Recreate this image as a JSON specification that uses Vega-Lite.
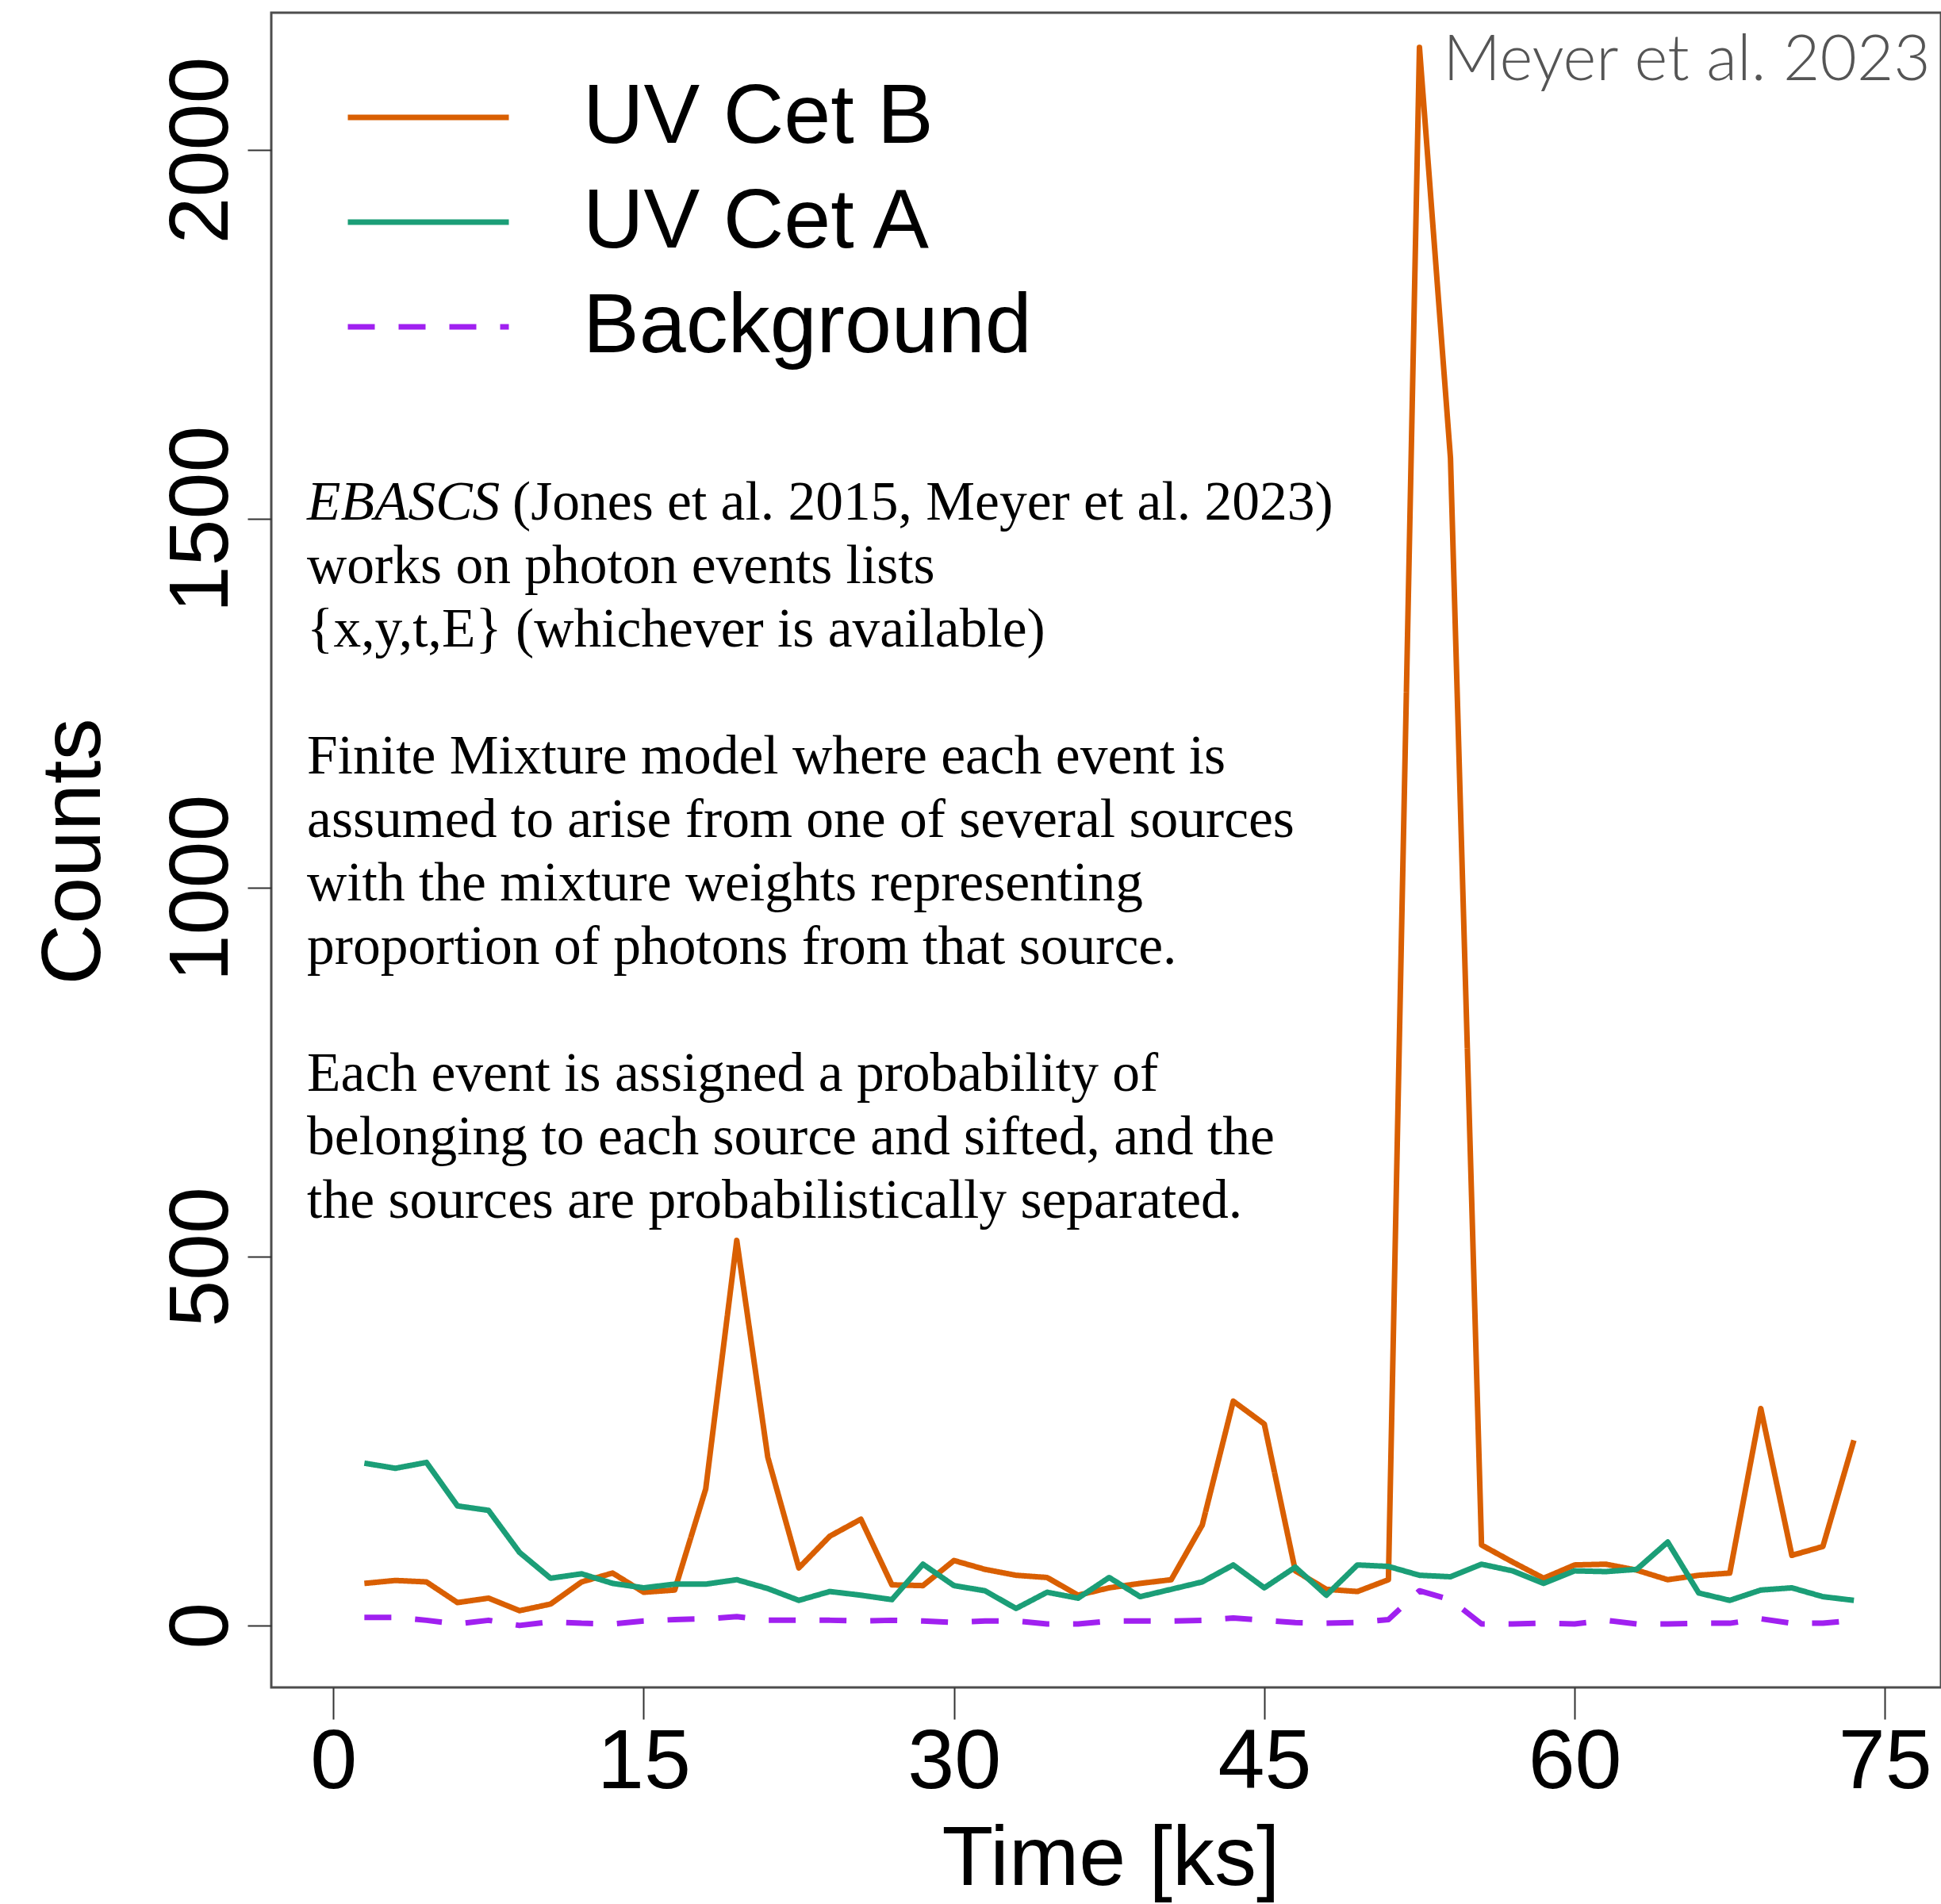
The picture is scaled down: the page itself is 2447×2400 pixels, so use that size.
{
  "$schema": "https://vega.github.io/schema/vega-lite/v6.json",
  "width": 2105,
  "height": 2111,
  "autosize": {"type": "none"},
  "padding": {"left": 342, "top": 16, "right": 0, "bottom": 273},
  "background": "white",
  "config": {
    "view": {"stroke": "#4d4d4d", "strokeWidth": 3},
    "font": "Liberation Sans"
  },
  "datasets": {
    "lc": [
      {"t": 1.5, "UV Cet B": 57, "UV Cet A": 220, "Background": 11},
      {"t": 3, "UV Cet B": 61, "UV Cet A": 213, "Background": 11},
      {"t": 4.5, "UV Cet B": 59, "UV Cet A": 221, "Background": 7},
      {"t": 6, "UV Cet B": 31, "UV Cet A": 162, "Background": 2},
      {"t": 7.5, "UV Cet B": 37, "UV Cet A": 156, "Background": 7},
      {"t": 9, "UV Cet B": 20, "UV Cet A": 99, "Background": 0},
      {"t": 10.5, "UV Cet B": 29, "UV Cet A": 64, "Background": 5},
      {"t": 12, "UV Cet B": 59, "UV Cet A": 70, "Background": 3},
      {"t": 13.5, "UV Cet B": 71, "UV Cet A": 57, "Background": 2},
      {"t": 15, "UV Cet B": 45, "UV Cet A": 51, "Background": 6},
      {"t": 16.5, "UV Cet B": 48, "UV Cet A": 56, "Background": 8},
      {"t": 18, "UV Cet B": 185, "UV Cet A": 56, "Background": 9},
      {"t": 19.5, "UV Cet B": 522, "UV Cet A": 62, "Background": 12},
      {"t": 21, "UV Cet B": 228, "UV Cet A": 50, "Background": 7},
      {"t": 22.5, "UV Cet B": 78, "UV Cet A": 34, "Background": 7},
      {"t": 24, "UV Cet B": 121, "UV Cet A": 46, "Background": 7},
      {"t": 25.5, "UV Cet B": 144, "UV Cet A": 41, "Background": 6},
      {"t": 27, "UV Cet B": 55, "UV Cet A": 35, "Background": 7},
      {"t": 28.5, "UV Cet B": 54, "UV Cet A": 83, "Background": 6},
      {"t": 30, "UV Cet B": 88, "UV Cet A": 54, "Background": 4},
      {"t": 31.5, "UV Cet B": 76, "UV Cet A": 47, "Background": 6},
      {"t": 33, "UV Cet B": 68, "UV Cet A": 23, "Background": 6},
      {"t": 34.5, "UV Cet B": 65, "UV Cet A": 45, "Background": 2},
      {"t": 36, "UV Cet B": 41, "UV Cet A": 37, "Background": 2},
      {"t": 37.5, "UV Cet B": 51, "UV Cet A": 65, "Background": 6},
      {"t": 39, "UV Cet B": 57, "UV Cet A": 39, "Background": 6},
      {"t": 40.5, "UV Cet B": 62, "UV Cet A": 49, "Background": 6},
      {"t": 42, "UV Cet B": 136, "UV Cet A": 59, "Background": 7},
      {"t": 43.5, "UV Cet B": 304, "UV Cet A": 82, "Background": 10},
      {"t": 45, "UV Cet B": 273, "UV Cet A": 51, "Background": 7},
      {"t": 46.5, "UV Cet B": 74, "UV Cet A": 79, "Background": 4},
      {"t": 48, "UV Cet B": 49, "UV Cet A": 41, "Background": 3},
      {"t": 49.5, "UV Cet B": 46, "UV Cet A": 82, "Background": 4},
      {"t": 51, "UV Cet B": 62, "UV Cet A": 80, "Background": 8},
      {"t": 52.5, "UV Cet B": 2139, "UV Cet A": 68, "Background": 47},
      {"t": 54, "UV Cet B": 1582, "UV Cet A": 66, "Background": 35},
      {"t": 55.5, "UV Cet B": 109, "UV Cet A": 83, "Background": 2},
      {"t": 57, "UV Cet B": 86, "UV Cet A": 74, "Background": 2},
      {"t": 58.5, "UV Cet B": 64, "UV Cet A": 57, "Background": 3},
      {"t": 60, "UV Cet B": 82, "UV Cet A": 74, "Background": 2},
      {"t": 61.5, "UV Cet B": 83, "UV Cet A": 73, "Background": 7},
      {"t": 63, "UV Cet B": 75, "UV Cet A": 76, "Background": 2},
      {"t": 64.5, "UV Cet B": 62, "UV Cet A": 113, "Background": 2},
      {"t": 66, "UV Cet B": 68, "UV Cet A": 44, "Background": 3},
      {"t": 67.5, "UV Cet B": 71, "UV Cet A": 34, "Background": 3},
      {"t": 69, "UV Cet B": 294, "UV Cet A": 48, "Background": 9},
      {"t": 70.5, "UV Cet B": 95, "UV Cet A": 51, "Background": 3},
      {"t": 72, "UV Cet B": 107, "UV Cet A": 39, "Background": 3},
      {"t": 73.5, "UV Cet B": 251, "UV Cet A": 34, "Background": 7}
    ],
    "note": [{"id": 1}]
  },
  "layer": [
    {
      "data": {"name": "lc"},
      "transform": [{"fold": ["UV Cet B", "UV Cet A", "Background"], "as": ["series", "counts"]}],
      "mark": {"type": "line", "strokeWidth": 7, "strokeCap": "butt", "strokeJoin": "round"},
      "encoding": {
        "x": {
          "field": "t", "type": "quantitative",
          "scale": {"domain": [-3, 77.71], "nice": false, "zero": false},
          "axis": {
            "values": [0, 15, 30, 45, 60, 75], "format": "d", "title": "Time [ks]", "domain": false, "grid": false,
            "tickSize": 40, "tickWidth": 2, "tickColor": "#333333",
            "labelFont": "Liberation Sans", "labelFontSize": 106, "labelColor": "black", "labelPadding": 2,
            "labelFlush": false, "labelOverlap": false, "labelLimit": 1000,
            "titleFont": "Liberation Sans", "titleFontSize": 106, "titleFontWeight": "normal", "titleColor": "black",
            "titleX": 1058, "titleY": 248, "titleBaseline": "alphabetic", "titleAlign": "center", "titleLimit": 2000
          }
        },
        "y": {
          "field": "counts", "type": "quantitative",
          "scale": {"domain": [-84, 2186], "nice": false, "zero": false},
          "axis": {
            "values": [0, 500, 1000, 1500, 2000], "format": "d", "title": "Counts", "domain": false, "grid": false,
            "tickSize": 30, "tickWidth": 2, "tickColor": "#333333",
            "labelFont": "Liberation Sans", "labelFontSize": 106, "labelColor": "black", "labelPadding": 26,
            "labelAngle": -90, "labelAlign": "center", "labelBaseline": "alphabetic",
            "labelFlush": false, "labelOverlap": false, "labelLimit": 1000,
            "titleFont": "Liberation Sans", "titleFontSize": 106, "titleFontWeight": "normal", "titleColor": "black",
            "titleX": -217, "titleY": 1057, "titleBaseline": "alphabetic", "titleAlign": "center", "titleAngle": -90, "titleLimit": 2000
          }
        },
        "stroke": {
          "field": "series", "type": "nominal",
          "scale": {"domain": ["UV Cet B", "UV Cet A", "Background"], "range": ["#D95F02", "#1B9E77", "#A020F0"]},
          "legend": {
            "title": null, "orient": "none", "legendX": 93, "legendY": 66, "padding": 0,
            "symbolType": "stroke", "symbolSize": 41209, "symbolStrokeWidth": 7,
            "labelFont": "Liberation Sans", "labelFontSize": 106, "labelColor": "black", "labelOffset": 90,
            "clipHeight": 132, "rowPadding": 0, "labelLimit": 1000
          }
        },
        "strokeDash": {
          "field": "series", "type": "nominal",
          "scale": {"domain": ["UV Cet B", "UV Cet A", "Background"], "range": [[1, 0], [1, 0], [34, 30]]},
          "legend": {
            "title": null, "orient": "none", "legendX": 93, "legendY": 66, "padding": 0,
            "symbolType": "stroke", "symbolSize": 41209, "symbolStrokeWidth": 7,
            "labelFont": "Liberation Sans", "labelFontSize": 106, "labelColor": "black", "labelOffset": 90,
            "clipHeight": 132, "rowPadding": 0, "labelLimit": 1000
          }
        }
      }
    },
    {
      "data": {"name": "note"},
      "mark": {"type": "text", "align": "left", "baseline": "alphabetic", "font": "Liberation Serif", "fontSize": 69.5, "fontStyle": "italic", "color": "black"},
      "encoding": {
        "x": {"datum": -1.27, "type": "quantitative"},
        "y": {"datum": 1499, "type": "quantitative"},
        "text": {"value": "EBASCS"}
      }
    },
    {
      "data": {"name": "note"},
      "mark": {"type": "text", "align": "left", "baseline": "alphabetic", "font": "Liberation Serif", "fontSize": 69.5, "dx": 259, "color": "black"},
      "encoding": {
        "x": {"datum": -1.27, "type": "quantitative"},
        "y": {"datum": 1499, "type": "quantitative"},
        "text": {"value": "(Jones et al. 2015, Meyer et al. 2023)"}
      }
    },
    {
      "data": {"name": "note"},
      "mark": {"type": "text", "align": "left", "baseline": "alphabetic", "font": "Liberation Serif", "fontSize": 69.5, "lineHeight": 80, "color": "black", "limit": 3000},
      "encoding": {
        "x": {"datum": -1.27, "type": "quantitative"},
        "y": {"datum": 1413, "type": "quantitative"},
        "text": {"value": [
          "works on photon events lists",
          "{x,y,t,E} (whichever is available)"
        ]}
      }
    },
    {
      "data": {"name": "note"},
      "mark": {"type": "text", "align": "left", "baseline": "alphabetic", "font": "Liberation Serif", "fontSize": 69.5, "lineHeight": 80, "color": "black", "limit": 3000},
      "encoding": {
        "x": {"datum": -1.27, "type": "quantitative"},
        "y": {"datum": 1155, "type": "quantitative"},
        "text": {"value": [
          "Finite Mixture model where each event is",
          "assumed to arise from one of several sources",
          "with the mixture weights representing",
          "proportion of photons from that source."
        ]}
      }
    },
    {
      "data": {"name": "note"},
      "mark": {"type": "text", "align": "left", "baseline": "alphabetic", "font": "Liberation Serif", "fontSize": 69.5, "lineHeight": 80, "color": "black", "limit": 3000},
      "encoding": {
        "x": {"datum": -1.27, "type": "quantitative"},
        "y": {"datum": 725, "type": "quantitative"},
        "text": {"value": [
          "Each event is assigned a probability of",
          "belonging to each source and sifted, and the",
          "the sources are probabilistically separated."
        ]}
      }
    },
    {
      "data": {"name": "note"},
      "mark": {"type": "text", "align": "right", "baseline": "alphabetic", "font": "Lato", "fontWeight": 300, "fontSize": 80, "color": "#555555"},
      "encoding": {
        "x": {"datum": 77.2, "type": "quantitative"},
        "y": {"datum": 2094.6, "type": "quantitative"},
        "text": {"value": "Meyer et al. 2023"}
      }
    }
  ]
}
